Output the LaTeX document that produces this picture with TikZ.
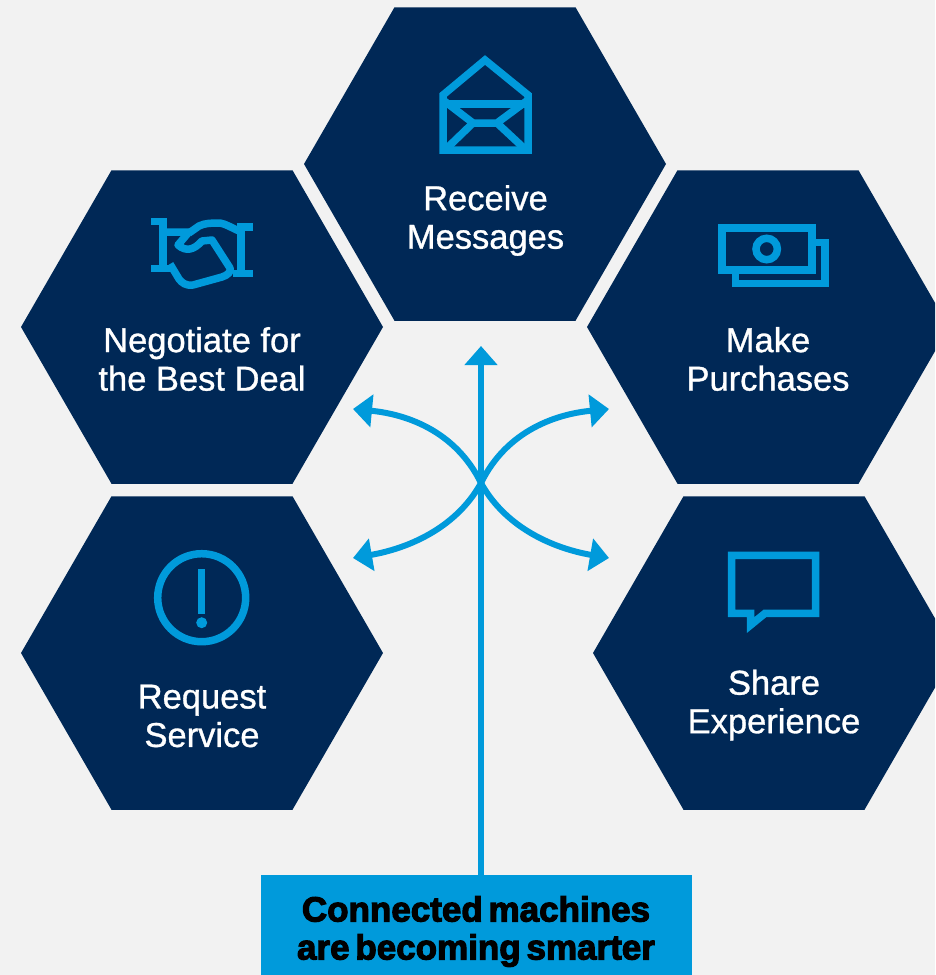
\documentclass[tikz,border=0pt]{standalone}
\usepackage{fontspec}
\setmainfont[FakeBold=0.9]{Liberation Sans}
\newfontfamily\heavyfont[FakeBold=3.2,WordSpace=0.6]{Liberation Sans Bold}
\usetikzlibrary{arrows.meta,shapes.geometric}
\definecolor{navy}{HTML}{002856}
\definecolor{cyanline}{HTML}{009ADB}
\definecolor{paper}{HTML}{F2F2F2}
\tikzset{
  hexa/.style={regular polygon,regular polygon sides=6,minimum size=362pt,inner sep=0pt,outer sep=0pt,fill=navy},
  hexlabel/.style={text=white,align=center,font=\fontsize{34.5}{38.5}\selectfont,inner sep=0pt},
  icon/.style={draw=cyanline,line width=7.5pt,miter limit=10},
  flow/.style={draw=cyanline,line width=6pt,-{Triangle[length=19pt,width=32pt]}},
  callout/.style={fill=cyanline,inner sep=0pt,minimum width=431pt,minimum height=100pt}
}
\begin{document}
\begin{tikzpicture}[x=1pt,y=-1pt]
\useasboundingbox (0,0) rectangle (935,975);
\fill[paper] (0,0) rectangle (935,975);
\clip (0,0) rectangle (935,975);
\node[hexa] (top) at (485,164) {};
\node[hexa] (nego) at (202,327) {};
\node[hexa] (buy) at (768,327) {};
\node[hexa] (serv) at (202,653) {};
\node[hexa] (share) at (774,653) {};
\node[hexlabel] (t1) at (485.5,220.5) {Receive\\Messages};
\node[hexlabel] (t2) at (202,359) {Negotiate for\\the Best Deal};
\node[hexlabel] (t3) at (768,359) {Make\\Purchases};
\node[hexlabel] (t4) at (202,716) {Request\\Service};
\node[hexlabel] (t5) at (774,705) {Share\\Experience};
\node[callout] (box) at (476.5,925) {};
\node[text=black,align=center,inner sep=0pt,font=\fontsize{35}{38}\selectfont\heavyfont] (boxtext) at (476,931.5) {Connected machines\\are becoming smarter};
% envelope
\draw[icon] (443,95) -- (485,60) -- (528,95) -- (528,150) -- (443,150) -- cycle;
\draw[icon] (443,104) -- (528,104);
\draw[icon] (443,100) -- (473,123) -- (497,123) -- (528,100);
\draw[icon] (445,150) -- (473,123) (497,123) -- (526,150);
% handshake
\draw[icon] (151,221.5) -- (167,221.5) (163,221) -- (163,268) (151,268.5) -- (171,268.5);
\draw[icon] (237,227) -- (253,227) (241,227) -- (241,274) (233,273.5) -- (253,273.5);
\draw[icon,line join=round] (163,232) -- (189,232) -- (178,245) .. controls (186,252) and (194,250) .. (202,241) -- (212,240) -- (230,268) .. controls (231,272) and (228,275) .. (222,277) -- (193,285) .. controls (186,286) and (182,283) .. (179,279) -- (170,264);
\draw[icon,line join=round] (189,233) -- (199,226) .. controls (205,223) and (212,223) .. (220,223) .. controls (226,224) and (232,228) .. (239,231);
% money
\draw[icon] (722,228) rectangle (812,270);
\draw[icon] (812,242.5) -- (825,242.5) -- (825,283.5) -- (735.5,283.5) -- (735.5,270);
\draw[icon] (766.7,249) circle (10.7);
% exclamation
\draw[icon] (201.7,597.7) circle (44);
\draw[icon] (201.7,569.3) -- (201.7,614);
\fill[cyanline] (201.7,622.7) circle (5.5);
% bubble
\draw[icon] (731.7,555.3) -- (815.7,555.3) -- (815.7,613.3) -- (765,613.3) -- (750.7,625) -- (750.7,613.3) -- (731.7,613.3) -- cycle;
% arrows
\coordinate (hub) at (481,483);
\coordinate (uptip) at (481,346);
\coordinate (tl) at (353,409);
\coordinate (tr) at (609,409);
\coordinate (bl) at (353,558);
\coordinate (br) at (609,558);
\draw[flow] (box.north -| hub) -- (uptip);
\draw[flow] (hub) .. controls (455,430) and (405,414) .. (tl);
\draw[flow] (hub) .. controls (507,430) and (557,414) .. (tr);
\draw[flow] (hub) .. controls (455,530) and (405,549) .. (bl);
\draw[flow] (hub) .. controls (507,530) and (557,549) .. (br);
\end{tikzpicture}
\end{document}
